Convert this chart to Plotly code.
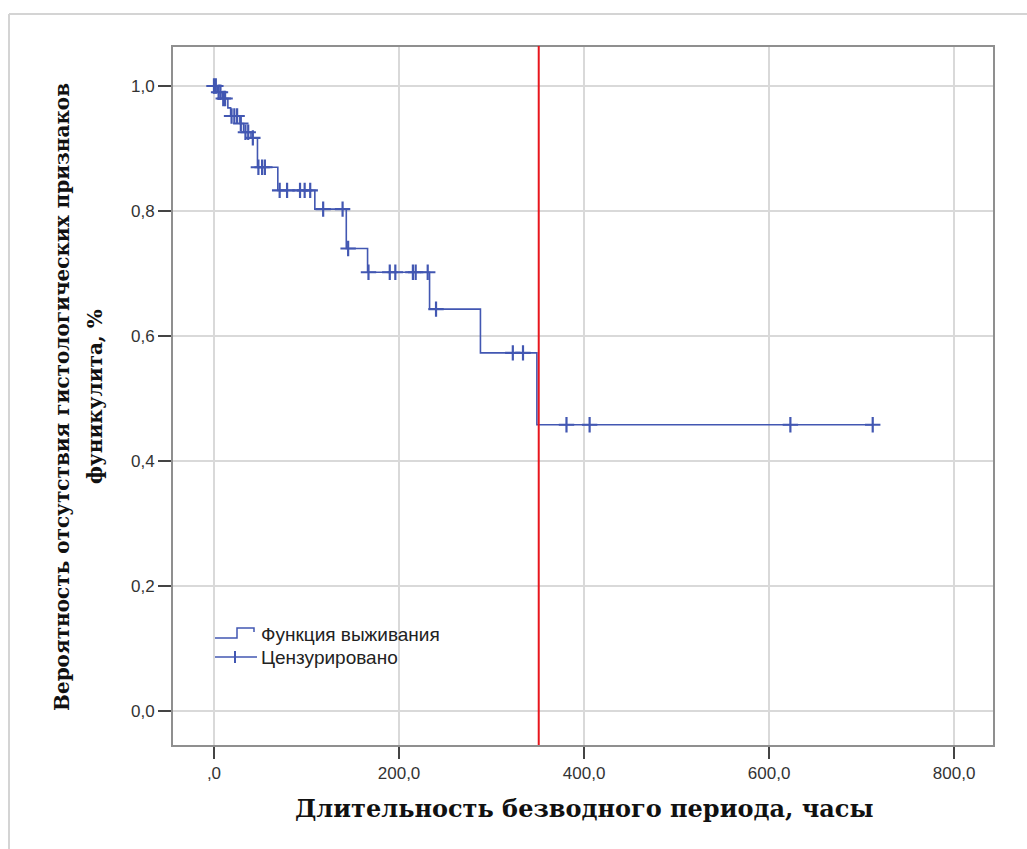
import plotly.graph_objects as go

# ---- data ----
event_times = [4, 9, 15, 18, 28, 32, 40, 47, 69, 109, 143, 166, 233, 288, 349]
surv_after = [0.990, 0.980, 0.965, 0.952, 0.940, 0.926, 0.917, 0.870, 0.833, 0.803,
              0.740, 0.702, 0.643, 0.573, 0.458]
censor_times = [0, 2, 5, 7, 10, 12, 19, 22, 25, 29, 34, 37, 42, 48, 52, 55,
                71, 79, 93, 98, 104, 118, 139, 145, 167, 190, 196, 215, 218, 231,
                240, 323, 334, 381, 406, 623, 712]
end_time = 712
cutoff = 351

x_ticks = [0, 200, 400, 600, 800]
x_ticktext = [",0", "200,0", "400,0", "600,0", "800,0"]
y_ticks = [0.0, 0.2, 0.4, 0.6, 0.8, 1.0]
y_ticktext = ["0,0", "0,2", "0,4", "0,6", "0,8", "1,0"]

BLUE = "#4257b2"
RED = "#e8161d"

def surv_at(t):
    s = 1.0
    for et, sv in zip(event_times, surv_after):
        if et <= t:
            s = sv
    return s

line_x = [0] + event_times + [end_time]
line_y = [1.0] + surv_after + [surv_after[-1]]
cens_y = [surv_at(t) for t in censor_times]

fig = go.Figure()
fig.add_trace(go.Scatter(x=line_x, y=line_y, mode="lines", line_shape="hv",
                         line=dict(color=BLUE, width=1.6), showlegend=False,
                         hoverinfo="skip"))
fig.add_trace(go.Scatter(x=censor_times, y=cens_y, mode="markers",
                         marker=dict(symbol="cross-thin", size=11,
                                     line=dict(color=BLUE, width=2.2)),
                         showlegend=False))

# layout geometry (pixels)
W, H = 1027, 849
L, R, T, B = 173, 993, 47, 745

def px(xp):
    return (xp - L) / (R - L)

def py(yp):
    return (B - yp) / (B - T)

shapes = []
# outer frame
shapes.append(dict(type="line", xref="paper", yref="paper", x0=px(9), x1=px(1030),
                   y0=py(14), y1=py(14), line=dict(color="#d4d4d4", width=2)))
shapes.append(dict(type="line", xref="paper", yref="paper", x0=px(9), x1=px(9),
                   y0=py(14), y1=py(852), line=dict(color="#d4d4d4", width=2)))
# red cutoff line
shapes.append(dict(type="line", xref="x", yref="paper", x0=cutoff, x1=cutoff,
                   y0=0, y1=py(46), line=dict(color=RED, width=2)))
# legend icons
shapes.append(dict(type="path", xref="paper", yref="paper",
                   path=f"M {px(215)} {py(638)} L {px(237)} {py(638)} L {px(237)} {py(628)} "
                        f"L {px(254)} {py(628)} L {px(254)} {py(632)}",
                   line=dict(color=BLUE, width=1.5)))
shapes.append(dict(type="line", xref="paper", yref="paper", x0=px(215), x1=px(257),
                   y0=py(657), y1=py(657), line=dict(color=BLUE, width=1.5)))
shapes.append(dict(type="line", xref="paper", yref="paper", x0=px(235), x1=px(235),
                   y0=py(651), y1=py(663), line=dict(color=BLUE, width=2)))

legend_font = dict(family="Liberation Sans", size=19, color="#222")
title_font_x = dict(family="DejaVu Serif", size=24, color="#111")
title_font_y = dict(family="DejaVu Serif", size=20, color="#111")

annotations = [
    dict(text="Функция выживания", xref="paper", yref="paper", x=px(259), y=py(634),
         xanchor="left", yanchor="middle", showarrow=False, font=legend_font),
    dict(text="Цензурировано", xref="paper", yref="paper", x=px(259), y=py(657),
         xanchor="left", yanchor="middle", showarrow=False, font=legend_font),
    dict(text="<b>Длительность безводного периода, часы</b>", xref="paper", yref="paper",
         x=px(584), y=py(808), xanchor="center", yanchor="middle", showarrow=False,
         font=title_font_x),
    dict(text="<b>Вероятность отсутствия гистологических признаков</b>",
         xref="paper", yref="paper", x=px(62), y=py(397), xanchor="center",
         yanchor="middle", showarrow=False, textangle=-90, font=title_font_y),
    dict(text="<b>фуникулита, %</b>",
         xref="paper", yref="paper", x=px(95), y=py(397), xanchor="center",
         yanchor="middle", showarrow=False, textangle=-90, font=title_font_y),
]

fig.update_layout(
    width=W, height=H,
    margin=dict(l=L, r=W - R, t=T, b=H - B),
    paper_bgcolor="white", plot_bgcolor="white",
    shapes=shapes, annotations=annotations,
    showlegend=False,
)
tick_font = dict(family="Liberation Sans", size=17, color="#333")
fig.update_xaxes(range=[-44.3, 842], tickvals=x_ticks, ticktext=x_ticktext,
                 showgrid=True, gridcolor="#d9d9d9", gridwidth=1.5,
                 showline=True, mirror=True, linecolor="#8f8f8f", linewidth=2,
                 ticks="outside", ticklen=12, tickcolor="#444", tickwidth=1.5,
                 zeroline=False, tickfont=tick_font)
fig.update_yaxes(range=[-0.0544, 1.0624], tickvals=y_ticks, ticktext=y_ticktext,
                 showgrid=True, gridcolor="#d9d9d9", gridwidth=1.5,
                 showline=True, mirror=True, linecolor="#8f8f8f", linewidth=2,
                 ticks="outside", ticklen=13, tickcolor="#444", tickwidth=1.5,
                 zeroline=False, tickfont=tick_font)

fig.write_html("out.html")
